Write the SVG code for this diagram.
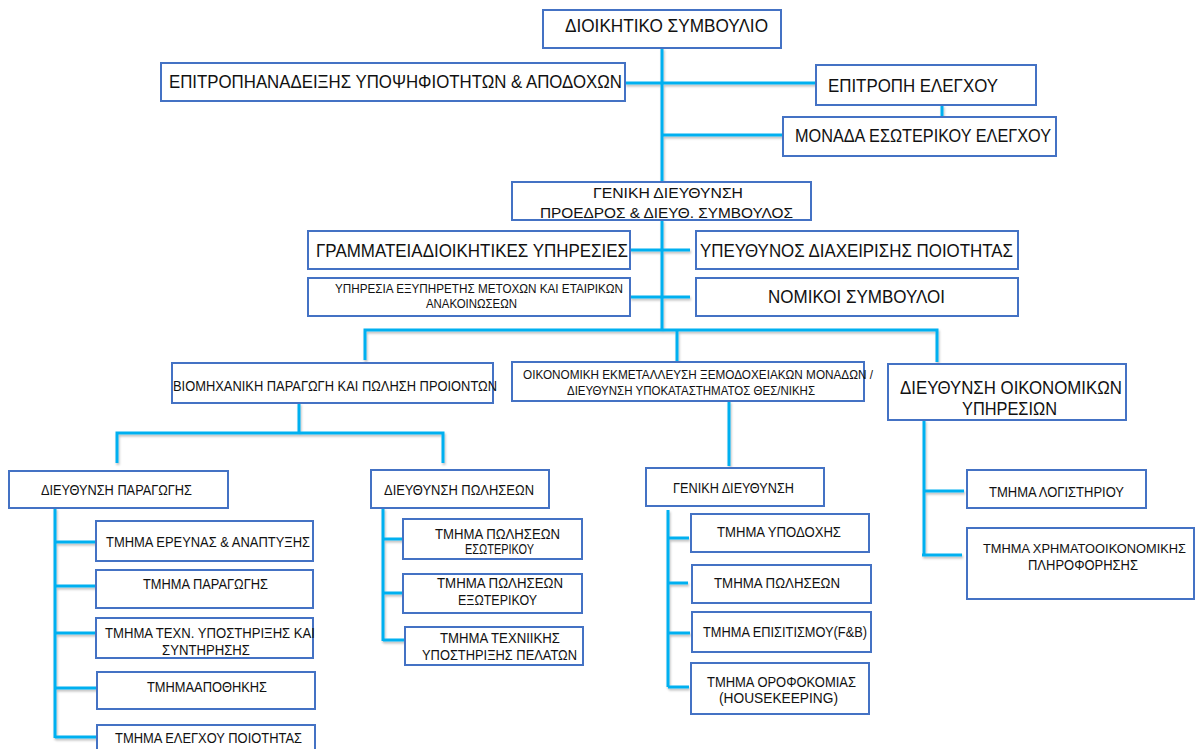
<svg xmlns="http://www.w3.org/2000/svg" width="1197" height="749" viewBox="0 0 1197 749">
<defs>
<style>
.box{fill:#fff;stroke:#4472C4;stroke-width:2}
.t{font-family:"Liberation Sans",Arial,sans-serif;fill:#111;font-size:14px}
.l{font-size:18px}
.xl{font-size:19px}
.m{font-size:15px}
.s{font-size:12px}
.c{fill:none;stroke:#00B0F0;stroke-width:3}
</style>
<filter id="sh" x="-5%" y="-5%" width="110%" height="110%">
<feDropShadow dx="1" dy="2" stdDeviation="1" flood-color="#000" flood-opacity="0.25"/>
</filter>
</defs>
<rect width="1197" height="749" fill="#fff"/>
<g id="connectors" class="c" filter="url(#sh)">
<path d="M662 48V182M662 220V330"/>
<path d="M625 83H816"/>
<path d="M662 135H783"/>
<path d="M942 105V117"/>
<path d="M630 250H690M630 297H690"/>
<path d="M365 360V330H937V362"/>
<path d="M677 330V362"/>
<path d="M299 403V433"/>
<path d="M117 463V433H443V463"/>
<path d="M729 401V466"/>
<path d="M924 420V555"/>
<path d="M924 491H964M922 555H962"/>
<path d="M55 508V738M55 542H96M55 586H96M55 633H96M55 688H97M55 737H97"/>
<path d="M383 508V641M383 539H403M383 593H403M383 640H405"/>
<path d="M668 510V687M668 538H689M668 583H688M668 633H690M668 687H689"/>
</g>
<g id="n1"><rect class="box" x="543" y="10" width="238" height="38"/><text class="t xl" x="565" y="32" textLength="203" lengthAdjust="spacingAndGlyphs">ΔΙΟΙΚΗΤΙΚΟ ΣΥΜΒΟΥΛΙΟ</text></g>
<g id="n2"><rect class="box" x="161" y="63" width="464" height="38"/><text class="t l" x="169" y="88" textLength="453" lengthAdjust="spacingAndGlyphs">ΕΠΙΤΡΟΠΗΑΝΑΔΕΙΞΗΣ ΥΠΟΨΗΦΙΟΤΗΤΩΝ &amp; ΑΠΟΔΟΧΩΝ</text></g>
<g id="n3"><rect class="box" x="816" y="65" width="220" height="40"/><text class="t l" x="828" y="92" textLength="170" lengthAdjust="spacingAndGlyphs">ΕΠΙΤΡΟΠΗ ΕΛΕΓΧΟΥ</text></g>
<g id="n4"><rect class="box" x="783" y="117" width="273" height="39"/><text class="t xl" x="795" y="142" textLength="256" lengthAdjust="spacingAndGlyphs">ΜΟΝΑΔΑ ΕΣΩΤΕΡΙΚΟΥ ΕΛΕΓΧΟΥ</text></g>
<g id="n5"><rect class="box" x="512" y="182" width="299" height="38"/><text class="t m" x="593" y="198" textLength="150" lengthAdjust="spacingAndGlyphs">ΓΕΝΙΚΗ ΔΙΕΥΘΥΝΣΗ</text><text class="t m" x="540" y="218" textLength="253" lengthAdjust="spacingAndGlyphs">ΠΡΟΕΔΡΟΣ &amp; ΔΙΕΥΘ. ΣΥΜΒΟΥΛΟΣ</text></g>
<g id="n6"><rect class="box" x="308" y="231" width="322" height="38"/><text class="t l" x="316" y="257" textLength="312" lengthAdjust="spacingAndGlyphs">ΓΡΑΜΜΑΤΕΙΑΔΙΟΙΚΗΤΙΚΕΣ ΥΠΗΡΕΣΙΕΣ</text></g>
<g id="n7"><rect class="box" x="308" y="278" width="322" height="38"/><text class="t s" x="335" y="293" textLength="288" lengthAdjust="spacingAndGlyphs">ΥΠΗΡΕΣΙΑ ΕΞΥΠΗΡΕΤΗΣ ΜΕΤΟΧΩΝ ΚΑΙ ΕΤΑΙΡΙΚΩΝ</text><text class="t s" x="426" y="308" textLength="91" lengthAdjust="spacingAndGlyphs">ΑΝΑΚΟΙΝΩΣΕΩΝ</text></g>
<g id="n8"><rect class="box" x="696" y="231" width="322" height="38"/><text class="t l" x="700" y="257" textLength="313" lengthAdjust="spacingAndGlyphs">ΥΠΕΥΘΥΝΟΣ ΔΙΑΧΕΙΡΙΣΗΣ ΠΟΙΟΤΗΤΑΣ</text></g>
<g id="n9"><rect class="box" x="696" y="278" width="322" height="38"/><text class="t l" x="768" y="303" textLength="177" lengthAdjust="spacingAndGlyphs">ΝΟΜΙΚΟΙ ΣΥΜΒΟΥΛΟΙ</text></g>
<g id="n10"><rect class="box" x="172" y="363" width="321" height="40"/><text class="t" x="173" y="391" textLength="324" lengthAdjust="spacingAndGlyphs">ΒΙΟΜΗΧΑΝΙΚΗ ΠΑΡΑΓΩΓΗ ΚΑΙ ΠΩΛΗΣΗ ΠΡΟΙΟΝΤΩΝ</text></g>
<g id="n11"><rect class="box" x="512" y="362" width="352" height="39"/><text class="t s" x="523" y="379" textLength="350" lengthAdjust="spacingAndGlyphs">ΟΙΚΟΝΟΜΙΚΗ ΕΚΜΕΤΑΛΛΕΥΣΗ ΞΕΜΟΔΟΧΕΙΑΚΩΝ ΜΟΝΑΔΩΝ /</text><text class="t s" x="567" y="395" textLength="248" lengthAdjust="spacingAndGlyphs">ΔΙΕΥΘΥΝΣΗ ΥΠΟΚΑΤΑΣΤΗΜΑΤΟΣ ΘΕΣ/ΝΙΚΗΣ</text></g>
<g id="n12"><rect class="box" x="888" y="364" width="238" height="56"/><text class="t xl" x="900" y="394" textLength="222" lengthAdjust="spacingAndGlyphs">ΔΙΕΥΘΥΝΣΗ ΟΙΚΟΝΟΜΙΚΩΝ</text><text class="t xl" x="962" y="415" textLength="95" lengthAdjust="spacingAndGlyphs">ΥΠΗΡΕΣΙΩΝ</text></g>
<g id="n13"><rect class="box" x="9" y="471" width="219" height="37"/><text class="t" x="41" y="495" textLength="151" lengthAdjust="spacingAndGlyphs">ΔΙΕΥΘΥΝΣΗ ΠΑΡΑΓΩΓΗΣ</text></g>
<g id="n14"><rect class="box" x="371" y="470" width="178" height="38"/><text class="t" x="384" y="495" textLength="150" lengthAdjust="spacingAndGlyphs">ΔΙΕΥΘΥΝΣΗ ΠΩΛΗΣΕΩΝ</text></g>
<g id="n15"><rect class="box" x="96" y="521" width="217" height="40"/><text class="t" x="106" y="547" textLength="204" lengthAdjust="spacingAndGlyphs">ΤΜΗΜΑ ΕΡΕΥΝΑΣ &amp; ΑΝΑΠΤΥΞΗΣ</text></g>
<g id="n16"><rect class="box" x="96" y="570" width="217" height="38"/><text class="t" x="143" y="589" textLength="125" lengthAdjust="spacingAndGlyphs">ΤΜΗΜΑ ΠΑΡΑΓΩΓΗΣ</text></g>
<g id="n17"><rect class="box" x="96" y="618" width="217" height="40"/><text class="t" x="105" y="638" textLength="210" lengthAdjust="spacingAndGlyphs">ΤΜΗΜΑ ΤΕΧΝ. ΥΠΟΣΤΗΡΙΞΗΣ ΚΑΙ</text><text class="t" x="162" y="655" textLength="88" lengthAdjust="spacingAndGlyphs">ΣΥΝΤΗΡΗΣΗΣ</text></g>
<g id="n18"><rect class="box" x="97" y="672" width="218" height="37"/><text class="t" x="147" y="692" textLength="120" lengthAdjust="spacingAndGlyphs">ΤΜΗΜΑΑΠΟΘΗΚΗΣ</text></g>
<g id="n19"><rect class="box" x="97" y="725" width="218" height="40"/><text class="t" x="115" y="743" textLength="187" lengthAdjust="spacingAndGlyphs">ΤΜΗΜΑ ΕΛΕΓΧΟΥ ΠΟΙΟΤΗΤΑΣ</text></g>
<g id="n20"><rect class="box" x="403" y="519" width="179" height="40"/><text class="t" x="435" y="539" textLength="125" lengthAdjust="spacingAndGlyphs">ΤΜΗΜΑ ΠΩΛΗΣΕΩΝ</text><text class="t" x="465" y="554" textLength="69" lengthAdjust="spacingAndGlyphs">ΕΣΩΤΕΡΙΚΟΥ</text></g>
<g id="n21"><rect class="box" x="403" y="574" width="179" height="39"/><text class="t" x="437" y="588" textLength="126" lengthAdjust="spacingAndGlyphs">ΤΜΗΜΑ ΠΩΛΗΣΕΩΝ</text><text class="t" x="458" y="605" textLength="79" lengthAdjust="spacingAndGlyphs">ΕΞΩΤΕΡΙΚΟΥ</text></g>
<g id="n22"><rect class="box" x="405" y="627" width="178" height="38"/><text class="t" x="440" y="643" textLength="120" lengthAdjust="spacingAndGlyphs">ΤΜΗΜΑ ΤΕΧΝΙΙΚΗΣ</text><text class="t" x="422" y="660" textLength="155" lengthAdjust="spacingAndGlyphs">ΥΠΟΣΤΗΡΙΞΗΣ ΠΕΛΑΤΩΝ</text></g>
<g id="n23"><rect class="box" x="646" y="468" width="178" height="38"/><text class="t" x="673" y="493" textLength="121" lengthAdjust="spacingAndGlyphs">ΓΕΝΙΚΗ ΔΙΕΥΘΥΝΣΗ</text></g>
<g id="n24"><rect class="box" x="691" y="514" width="178" height="38"/><text class="t" x="717" y="537" textLength="124" lengthAdjust="spacingAndGlyphs">ΤΜΗΜΑ ΥΠΟΔΟΧΗΣ</text></g>
<g id="n25"><rect class="box" x="692" y="565" width="179" height="38"/><text class="t" x="714" y="588" textLength="126" lengthAdjust="spacingAndGlyphs">ΤΜΗΜΑ ΠΩΛΗΣΕΩΝ</text></g>
<g id="n26"><rect class="box" x="692" y="612" width="179" height="40"/><text class="t" x="703" y="637" textLength="164" lengthAdjust="spacingAndGlyphs">ΤΜΗΜΑ ΕΠΙΣΙΤΙΣΜΟΥ(F&amp;B)</text></g>
<g id="n27"><rect class="box" x="691" y="663" width="178" height="51"/><text class="t" x="707" y="687" textLength="149" lengthAdjust="spacingAndGlyphs">ΤΜΗΜΑ ΟΡΟΦΟΚΟΜΙΑΣ</text><text class="t" x="719" y="703" textLength="119" lengthAdjust="spacingAndGlyphs">(HOUSEKEEPING)</text></g>
<g id="n28"><rect class="box" x="967" y="470" width="179" height="38"/><text class="t" x="989" y="497" textLength="135" lengthAdjust="spacingAndGlyphs">ΤΜΗΜΑ ΛΟΓΙΣΤΗΡΙΟΥ</text></g>
<g id="n29"><rect class="box" x="967" y="528" width="227" height="71"/><text class="t" x="983" y="553" font-size="13" style="font-size:13px" textLength="203" lengthAdjust="spacingAndGlyphs">ΤΜΗΜΑ ΧΡΗΜΑΤΟΟΙΚΟΝΟΜΙΚΗΣ</text><text class="t" x="1028" y="570" textLength="110" lengthAdjust="spacingAndGlyphs">ΠΛΗΡΟΦΟΡΗΣΗΣ</text></g>
</svg>
